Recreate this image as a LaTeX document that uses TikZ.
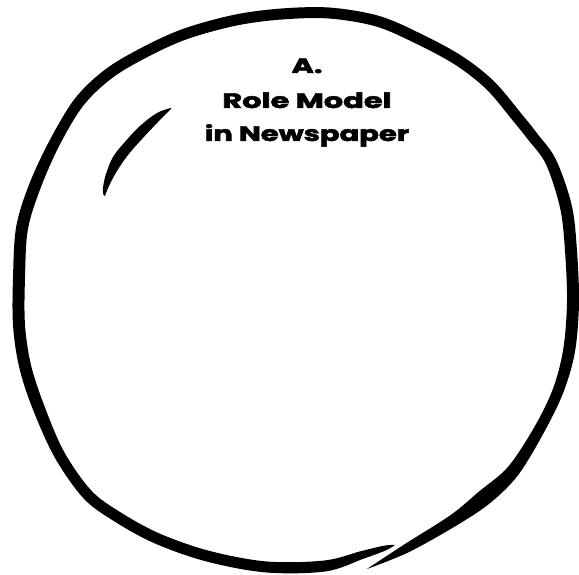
\documentclass[tikz,border=0pt]{standalone}
\usepackage{graphicx}
\usepackage{fontspec}
\newfontfamily\titlefont{Poppins}[BoldFeatures={FakeBold=2.2}]
\begin{document}
\begin{tikzpicture}[x=1pt,y=1pt,
  ink/.style={fill=black, draw=none},
  titletext/.style={font=\titlefont\bfseries\fontsize{21}{25}\selectfont, inner sep=0pt, anchor=base, text=black}]
\useasboundingbox (0,0) rectangle (579,575);
% hand-drawn ring, filled between an outer and an inner edge
\begin{scope}[shift={(290,283)}]
\fill[ink] plot[smooth, tension=0.55] coordinates {
 (-74.47:287.5) (-65.44:286.0) (-54.27:286.9) (-46.43:290.9) (-38.75:292.5)
 (-29.0:290.2) (-20.27:291.2) (-11.94:291.2) (-2.23:289.2) (8.30:290.0)
 (17.12:294.8) (26.48:297.1) (32.53:293.7) (37.63:292.1) (45.99:293.3)
 (54.09:291.9) (63.43:289.5) (72.20:290.1) (82.04:287.2) (91.85:283.6)
 (101.23:282.8) (111.50:283.9) (119.77:285.4) (129.13:289.1) (137.71:289.4)
 (147.45:284.3) (157.43:282.2) (166.57:281.5) (176.83:277.4) (186.94:279.0)
 (195.60:281.1) (204.34:282.6) (215.04:287.6) (224.86:291.9) (232.16:289.1)
 (241.42:285.6) (252.55:282.2) (265.01:281.5) (277.28:281.7) (285.31:276.7)
 (290.36:275.6) (292.54:273.9)}
 -- plot[smooth, tension=0.55] coordinates {
 (292.54:273.9) (290.36:270.6) (285.31:268.7) (277.28:270.7) (265.01:270.5)
 (252.55:271.2) (241.42:274.6) (232.16:278.1) (224.86:280.9) (215.04:276.6)
 (204.34:270.6) (195.60:269.1) (186.94:267.0) (176.83:265.4) (166.57:269.5)
 (157.43:270.2) (147.45:273.3) (137.71:278.4) (129.13:278.1) (119.77:274.4)
 (111.50:272.9) (101.23:271.8) (91.85:272.6) (82.04:276.2) (72.20:279.1)
 (63.43:278.5) (54.09:280.9) (45.99:282.3) (37.63:281.1) (32.53:282.7)
 (26.48:286.1) (17.12:282.8) (8.30:278.0) (-2.23:277.2) (-11.94:279.2)
 (-20.27:280.2) (-29.0:279.2) (-38.75:279.5) (-46.43:274.9) (-54.27:274.9)
 (-65.44:277.0) (-74.47:287.5)} -- cycle;
\end{scope}
% highlight stroke
\fill[ink] plot[smooth, tension=0.6] coordinates {
 (171,467) (157,462) (140,449) (124,432) (113,418) (106,401) (103,387) (103.5,380)}
 -- plot[smooth, tension=0.6] coordinates {
 (105,379) (109,389) (117,404) (128,420) (142,436) (158,453) (171,466)} -- cycle;
% title
\node[titletext] (a) at (307,502) {\scalebox{1.45}[1]{A.}};
\node[titletext] (l1) at (307,467) {\scalebox{1.45}[1]{Role Model}};
\node[titletext] (l2) at (307,434) {\scalebox{1.38}[1]{in Newspaper}};
\end{tikzpicture}
\end{document}
